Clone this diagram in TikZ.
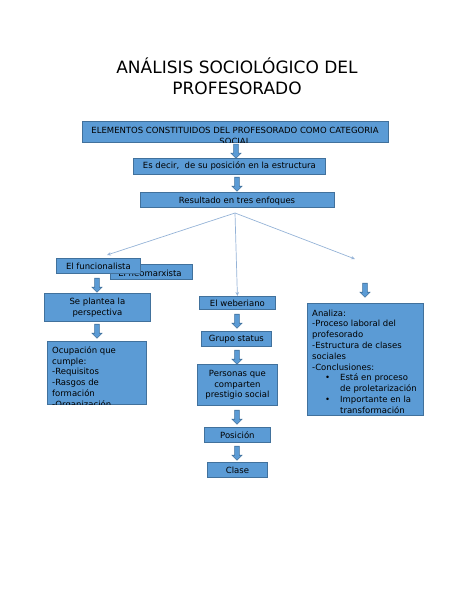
\documentclass[tikz,border=0pt]{standalone}
\usepackage{fontspec}
\setmainfont{DejaVu Sans}
\usetikzlibrary{shapes.arrows,arrows.meta}
\definecolor{boxfill}{HTML}{5B9BD5}
\definecolor{boxline}{HTML}{41719C}
\definecolor{thinline}{HTML}{95B3D7}
\tikzset{
  box/.style={draw=boxline, fill=boxfill, line width=0.8pt, inner sep=0pt, anchor=north west},
  txt/.style={font=\fontsize{8.5}{10.8}\selectfont, align=center, inner sep=0pt},
  ltxt/.style={font=\fontsize{8.5}{10.7}\selectfont, align=left, inner sep=0pt, anchor=north west},
  darr/.style={single arrow, draw=boxline, fill=boxfill, shape border rotate=270,
    minimum width=10pt, minimum height=14pt, single arrow head extend=2.5pt,
    inner sep=2pt, line width=0.6pt},
  thin/.style={draw=thinline, line width=0.7pt, -{Stealth[length=4pt,width=3.5pt]}}
}
\begin{document}
\begin{tikzpicture}[x=1pt,y=-1pt]
\useasboundingbox (0,0) rectangle (474,613);
% title
\node[font=\fontsize{17}{21}\selectfont, align=center, inner sep=0pt] (title) at (237,76)
  {ANÁLISIS SOCIOLÓGICO DEL\\PROFESORADO};
% box 1
\node[box, minimum width=306pt, minimum height=21pt] (b1) at (82,121) {};
\begin{scope}\clip (b1.south west) rectangle (b1.north east);
\node[txt, anchor=north, font=\fontsize{8.5}{11.5}\selectfont] (t1) at (235,126.5) {ELEMENTOS CONSTITUIDOS DEL PROFESORADO COMO CATEGORIA\\SOCIAL};
\end{scope}
\node[darr] (a1) at (236,150) {};
% box 2
\node[box, minimum width=192pt, minimum height=16pt] (b2) at (133,158) {};
\node[txt] (t2) at (b2.center) {Es decir,\ \ de su posición en la estructura};
\node[darr] (a2) at (237,183) {};
% box 3
\node[box, minimum width=194pt, minimum height=15pt] (b3) at (140,192) {};
\begin{scope}\clip (b3.south west) rectangle (b3.north east);
\node[txt] (t3) at (237,201) {Resultado en tres enfoques};
\end{scope}
% thin arrows
\coordinate (src) at (235,213);
\coordinate (rend) at (355,259);
% neomarxista & funcionalista
\node[box, minimum width=82pt, minimum height=15pt] (neo) at (110,264) {};
\node[txt] (tneo) at (150,273) {El neomarxista};
\node[box, minimum width=84pt, minimum height=15pt] (fun) at (56,258) {};
\node[txt] (tfun) at (fun.center) {El funcionalista};
\draw[thin] (src) -- (107,255);
\node[darr] (a3) at (97,284) {};
\node[box, minimum width=106pt, minimum height=28pt] (plan) at (44,293) {};
\node[txt] (tplan) at (plan.center) {Se plantea la\\perspectiva};
\node[darr] (a4) at (97,330) {};
\node[box, minimum width=99pt, minimum height=63pt] (oc) at (47,341) {};
\begin{scope}\clip (oc.south west) rectangle (oc.north east);
\node[ltxt] (toc) at (52,346.5) {Ocupación que\\cumple:\\-Requisitos\\-Rasgos de\\formación\\-Organización};
\end{scope}
% weberiano column
\node[box, minimum width=76pt, minimum height=13pt] (web) at (199,296) {};
\node[txt] (tweb) at (web.center) {El weberiano};
\draw[thin] (src) -- (web.north);
\node[darr] (a5) at (237,320) {};
\node[box, minimum width=70pt, minimum height=15pt] (gru) at (201,331) {};
\node[txt] (tgru) at (gru.center) {Grupo status};
\node[darr] (a6) at (237,356) {};
\node[box, minimum width=80pt, minimum height=41pt] (per) at (197,364) {};
\node[txt] (tper) at (per.center) {Personas que\\comparten\\prestigio social};
\node[darr] (a7) at (237,416) {};
\node[box, minimum width=66pt, minimum height=15pt] (pos) at (204,427) {};
\node[txt] (tpos) at (pos.center) {Posición};
\node[darr] (a8) at (237,452) {};
\node[box, minimum width=60pt, minimum height=15pt] (cla) at (207,462) {};
\node[txt] (tcla) at (cla.center) {Clase};
% right column
\draw[thin] (src) -- (rend);
\node[darr] (a9) at (365,289) {};
\node[box, minimum width=116pt, minimum height=112pt] (ana) at (307,303) {};
\begin{scope}\clip (ana.south west) rectangle (ana.north east);
\node[ltxt, font=\fontsize{8.5}{10.8}\selectfont] (tana) at (312,309.5) {Analiza:\\-Proceso laboral del\\profesorado\\-Estructura de clases\\sociales\\-Conclusiones:\\
\makebox[28pt][l]{\hspace*{13pt}•}Está en proceso\\\hspace*{28pt}de proletarización\\
\makebox[28pt][l]{\hspace*{13pt}•}Importante en la\\\hspace*{28pt}transformación};
\end{scope}
\end{tikzpicture}
\end{document}
